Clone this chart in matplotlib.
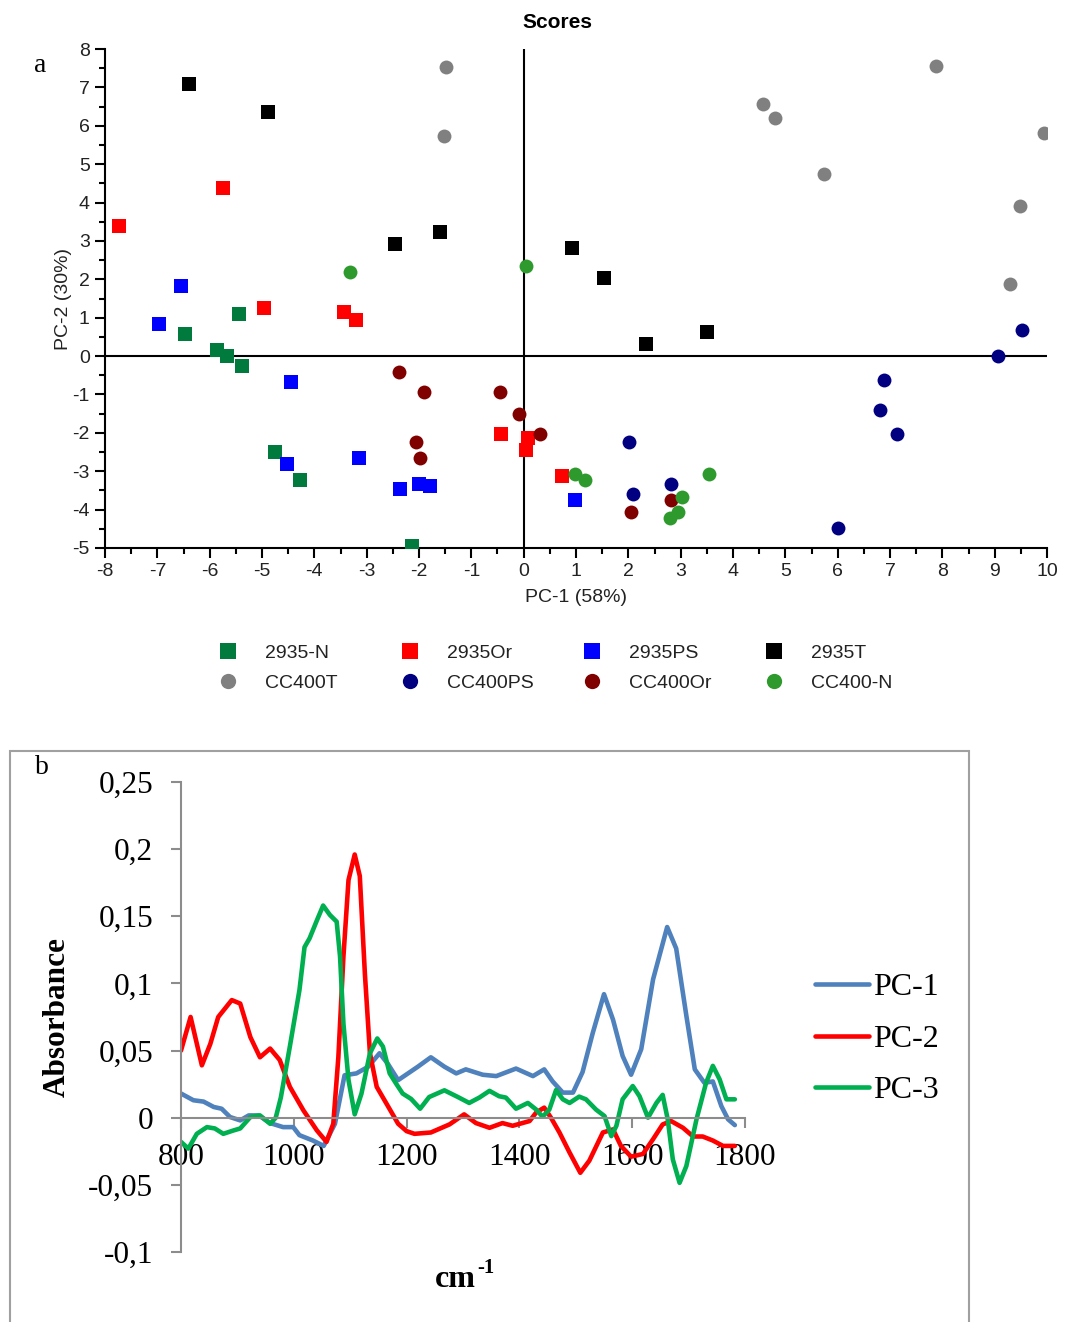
import matplotlib
matplotlib.use("Agg")
import matplotlib.pyplot as plt
from matplotlib.lines import Line2D
from matplotlib.patches import Rectangle

plt.rcParams["axes.unicode_minus"] = False

# ---- panel a: PCA scores (PC-1, PC-2) per sample group ----
groups = ["2935-N", "2935Or", "2935PS", "2935T",
          "CC400T", "CC400PS", "CC400Or", "CC400-N"]
colors = ["#007A3D", "#FF0000", "#0000FF", "#000000",
          "#808080", "#000080", "#800000", "#2E9A2E"]
markers = ["s", "s", "s", "s", "o", "o", "o", "o"]

n2935_x = [-6.47, -5.44, -5.86, -5.67, -5.38, -4.75, -4.27, -2.14]
n2935_y = [0.57, 1.10, 0.16, 0.0, -0.26, -2.51, -3.24, -4.96]
or2935_x = [-7.73, -5.74, -4.96, -3.44, -3.21, -0.44, 0.08, 0.04, 0.73]
or2935_y = [3.39, 4.39, 1.25, 1.15, 0.94, -2.04, -2.14, -2.45, -3.13]
ps2935_x = [-6.55, -6.97, -4.45, -4.52, -3.15, -2.37, -2.00, -1.79, 0.99]
ps2935_y = [1.83, 0.84, -0.68, -2.82, -2.66, -3.45, -3.34, -3.39, -3.76]
t2935_x = [-6.39, -4.89, -2.46, -1.60, 0.92, 1.53, 2.33, 3.51]
t2935_y = [7.10, 6.37, 2.92, 3.24, 2.82, 2.04, 0.31, 0.63]
tcc_x = [-1.49, -1.53, 4.58, 4.81, 5.74, 7.88, 9.94, 9.48, 9.29]
tcc_y = [7.52, 5.74, 6.58, 6.21, 4.75, 7.57, 5.80, 3.92, 1.88]
pscc_x = [9.06, 9.52, 6.89, 6.81, 7.14, 2.02, 2.08, 2.82, 6.01]
pscc_y = [0.0, 0.68, -0.63, -1.41, -2.04, -2.25, -3.60, -3.34, -4.49]
orcc_x = [-2.39, -1.91, -0.46, -0.08, 0.31, -2.06, -1.98, 2.06, 2.82]
orcc_y = [-0.42, -0.94, -0.94, -1.51, -2.04, -2.25, -2.66, -4.07, -3.76]
ncc_x = [-3.32, 0.04, 0.99, 1.18, 3.55, 3.02, 2.94, 2.79]
ncc_y = [2.19, 2.35, -3.08, -3.24, -3.08, -3.66, -4.07, -4.23]

xs = [n2935_x, or2935_x, ps2935_x, t2935_x, tcc_x, pscc_x, orcc_x, ncc_x]
ys = [n2935_y, or2935_y, ps2935_y, t2935_y, tcc_y, pscc_y, orcc_y, ncc_y]

# ---- panel b: loadings ----
pc1_wn = [800, 822, 840, 858, 872, 887, 905, 920, 938, 958, 981, 999, 1010,
          1034, 1053, 1073, 1090, 1111, 1132, 1152, 1167, 1185, 1220, 1243,
          1267, 1288, 1305, 1335, 1359, 1394, 1424, 1444, 1459, 1477, 1495,
          1512, 1530, 1550, 1566, 1583, 1598, 1616, 1637, 1662, 1678, 1696,
          1711, 1728, 1743, 1758, 1770, 1782]
pc1_val = [0.018, 0.013, 0.012, 0.008, 0.0067, 0.0005, -0.002, 0.0017, 0.0017,
           -0.004, -0.007, -0.007, -0.013, -0.017, -0.021, -0.0045, 0.0316,
           0.033, 0.038, 0.048, 0.040, 0.028, 0.038, 0.045, 0.038, 0.033,
           0.036, 0.032, 0.031, 0.0366, 0.031, 0.036, 0.027, 0.0187, 0.0187,
           0.034, 0.063, 0.092, 0.073, 0.046, 0.032, 0.051, 0.103, 0.142,
           0.126, 0.076, 0.036, 0.026, 0.027, 0.0087, -0.0012, -0.0055]

pc2_wn = [800, 817, 837, 852, 866, 890, 905, 923, 940, 958, 975, 993, 1017,
          1041, 1058, 1070, 1079, 1088, 1097, 1108, 1117, 1126, 1135, 1147,
          1165, 1185, 1200, 1214, 1243, 1276, 1302, 1323, 1347, 1370, 1388,
          1418, 1430, 1444, 1456, 1471, 1489, 1508, 1524, 1548, 1566, 1580,
          1598, 1619, 1637, 1654, 1669, 1690, 1708, 1725, 1743, 1761, 1782]
pc2_val = [0.050, 0.075, 0.039, 0.055, 0.075, 0.0876, 0.085, 0.060, 0.045,
           0.0515, 0.043, 0.023, 0.0055, -0.0095, -0.018, -0.0045, 0.045,
           0.120, 0.177, 0.196, 0.180, 0.1075, 0.048, 0.023, 0.010, -0.0045,
           -0.010, -0.012, -0.011, -0.005, 0.0025, -0.004, -0.0075, -0.004,
           -0.006, -0.0025, 0.004, 0.0075, 0.0, -0.011, -0.026, -0.041, -0.032,
           -0.011, -0.0087, -0.021, -0.029, -0.027, -0.016, -0.005, -0.0025,
           -0.0075, -0.014, -0.014, -0.017, -0.021, -0.021]

pc3_wn = [800, 813, 828, 846, 860, 875, 893, 905, 923, 940, 958, 968, 977,
          993, 1010, 1019, 1028, 1041, 1052, 1064, 1076, 1082, 1088, 1097,
          1108, 1120, 1135, 1148, 1158, 1170, 1182, 1193, 1208, 1224, 1240,
          1267, 1291, 1311, 1329, 1347, 1364, 1376, 1394, 1415, 1430, 1441,
          1453, 1465, 1477, 1489, 1506, 1518, 1536, 1551, 1563, 1572, 1583,
          1601, 1613, 1628, 1643, 1654, 1663, 1672, 1684, 1696, 1714, 1731,
          1743, 1755, 1767, 1782]
pc3_val = [-0.018, -0.023, -0.012, -0.007, -0.008, -0.012, -0.0095, -0.008,
           0.0005, 0.0017, -0.0045, 0.0, 0.015, 0.053, 0.095, 0.127, 0.1336,
           0.147, 0.158, 0.151, 0.146, 0.120, 0.070, 0.028, 0.0025, 0.018,
           0.048, 0.059, 0.053, 0.033, 0.025, 0.018, 0.014, 0.0067, 0.0154,
           0.0204, 0.0154, 0.011, 0.015, 0.020, 0.016, 0.015, 0.0067, 0.011,
           0.006, 0.0007, 0.006, 0.0206, 0.0137, 0.011, 0.0157, 0.0137, 0.006,
           0.0012, -0.0137, -0.006, 0.0137, 0.0236, 0.016, 0.0, 0.011, 0.017,
           -0.0012, -0.031, -0.0485, -0.036, -0.0012, 0.026, 0.0386, 0.0286,
           0.0137, 0.0137]

pc_names = ["PC-1", "PC-2", "PC-3"]
pc_colors = ["#4F81BD", "#FF0000", "#00B050"]

b_yticks = [-0.1, -0.05, 0, 0.05, 0.1, 0.15, 0.2, 0.25]
b_ylabels = ["-0,1", "-0,05", "0", "0,05", "0,1", "0,15", "0,2", "0,25"]
b_xticks = [800, 1000, 1200, 1400, 1600, 1800]

W, H = 1065, 1322
fig = plt.figure(figsize=(W / 100, H / 100), dpi=100)
sans = "Liberation Sans"
serif = "Liberation Serif"

# ---------- panel a ----------
ax = fig.add_axes([105 / W, 1 - 548 / H, (1047 - 105) / W, (548 - 49) / H])
for gx, gy, c, m, name in zip(xs, ys, colors, markers, groups):
    ax.scatter(gx, gy, c=c, marker=m, s=115 if m == "s" else 100,
               linewidths=0, label=name, zorder=3)
ax.set_xlim(-8, 10)
ax.set_ylim(-5, 8)
ax.set_xticks(range(-8, 11))
ax.set_yticks(range(-5, 9))
ax.set_xticks([v + 0.5 for v in range(-8, 10)], minor=True)
ax.set_yticks([v + 0.5 for v in range(-5, 8)], minor=True)
ax.axhline(0, color="black", lw=1.5, zorder=2)
ax.axvline(0, color="black", lw=1.5, zorder=2)
for s in ["top", "right"]:
    ax.spines[s].set_visible(False)
for s in ["left", "bottom"]:
    ax.spines[s].set_linewidth(1.5)
ax.tick_params(which="major", length=7, width=1.5, labelsize=14, pad=4)
ax.tick_params(which="minor", length=4, width=1.5)
for lab in ax.get_xticklabels() + ax.get_yticklabels():
    lab.set_family(sans)
    lab.set_color("#222222")
ax.set_xlabel("PC-1 (58%)", fontsize=14, family=sans, color="#222222", labelpad=6)
ax.set_ylabel("PC-2 (30%)", fontsize=14, family=sans, color="#222222", labelpad=0)
fig.text(557 / W, 1 - 22 / H, "Scores", ha="center", va="center",
         fontsize=15, fontweight="bold", family=sans)
fig.text(40 / W, 1 - 66 / H, "a", ha="center", va="center", fontsize=20,
         family=serif)

# legend in 4 columns, 2 rows
for j in range(4):
    hs = []
    for k in (j, j + 4):
        hs.append(Line2D([], [], ls="", marker=markers[k], color=colors[k],
                         markersize=11.5 if markers[k] == "s" else 11,
                         markeredgewidth=0, label=groups[k]))
    leg = fig.legend(handles=hs, loc="center left",
                     bbox_to_anchor=((228 + 182 * j - 14) / W, 1 - 668 / H),
                     frameon=False, prop={"family": sans, "size": 14},
                     handlelength=1.4, handletextpad=1.2, labelspacing=0.62,
                     borderpad=0, borderaxespad=0)
    for t in leg.get_texts():
        t.set_color("#222222")

# ---------- panel b ----------
fig.patches.append(Rectangle((10 / W, -0.01), (969 - 10) / W, 1 - 751 / H + 0.01,
                             transform=fig.transFigure, fill=False,
                             edgecolor="#A0A0A0", lw=1.5))
fig.text(42 / W, 1 - 767 / H, "b", ha="center", va="center", fontsize=20,
         family=serif)

bx = fig.add_axes([181 / W, 1 - 1252 / H, (745 - 181) / W, (1252 - 782) / H])
for wn, val, c, name in zip([pc1_wn, pc2_wn, pc3_wn], [pc1_val, pc2_val, pc3_val],
                            pc_colors, pc_names):
    bx.plot(wn, val, color=c, lw=3.3, label=name, solid_joinstyle="round",
            solid_capstyle="round")
bx.set_xlim(800, 1800)
bx.set_ylim(-0.1, 0.25)
bx.set_yticks(b_yticks)
bx.set_yticklabels(b_ylabels)
bx.set_xticks(b_xticks)
bx.set_xticklabels([str(v) for v in b_xticks])
for s in ["top", "right"]:
    bx.spines[s].set_visible(False)
bx.spines["bottom"].set_position(("data", 0))
for s in ["left", "bottom"]:
    bx.spines[s].set_color("#8C8C8C")
    bx.spines[s].set_linewidth(1.5)
bx.tick_params(axis="both", color="#8C8C8C", length=7, width=1.5, labelsize=22.5)
bx.tick_params(axis="x", pad=11)
bx.tick_params(axis="y", pad=13)
for lab in bx.get_xticklabels() + bx.get_yticklabels():
    lab.set_family(serif)
bx.set_ylabel("Absorbance", fontsize=22.5, fontweight="bold", family=serif,
              labelpad=12)
fig.text(476 / W, 1 - 1287 / H, "cm", ha="right", va="baseline",
         fontsize=23, fontweight="bold", family=serif)
fig.text(477 / W, 1 - 1273 / H, "-1", ha="left", va="baseline",
         fontsize=15, fontweight="bold", family=serif)
bx.legend(loc="center left", bbox_to_anchor=(815 / W, 1 - 1039 / H),
          bbox_transform=fig.transFigure, frameon=False,
          prop={"family": serif, "size": 23}, handlelength=1.7,
          handletextpad=0.12, labelspacing=0.7, borderpad=0, borderaxespad=0)

fig.savefig("out.png", dpi=100)
